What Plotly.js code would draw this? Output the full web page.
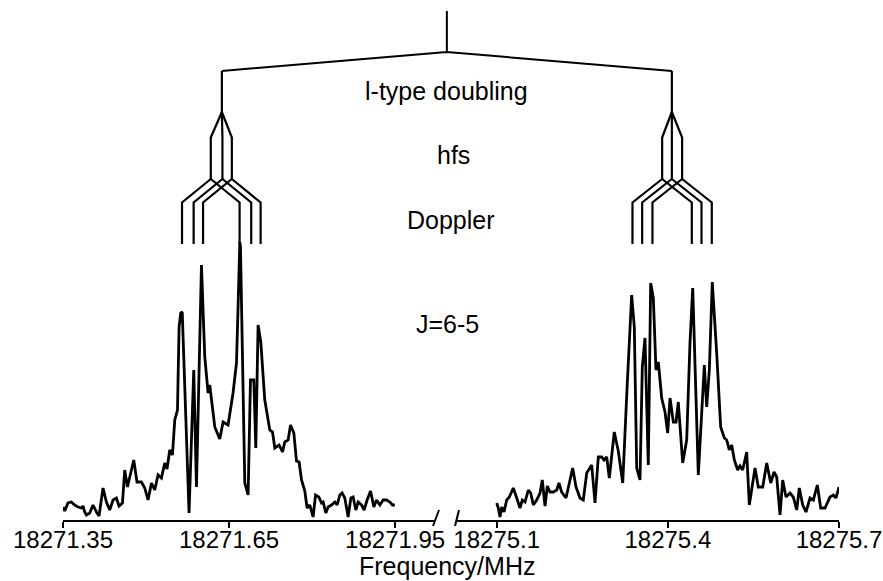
<!DOCTYPE html>
<html><head><meta charset="utf-8">
<script src="https://cdn.plot.ly/plotly-3.0.1.min.js"></script>
<style>html,body{margin:0;padding:0;background:#fff}#chart{width:883px;height:581px}</style>
</head><body><div id="chart"></div>
<script>
// ---- data ----
const freqLeft = [18271.3500,18271.3531,18271.3590,18271.3652,18271.3711,18271.3771,18271.3833,18271.3861,18271.3892,18271.3923,18271.3983,18271.4042,18271.4104,18271.4151,18271.4223,18271.4284,18271.4344,18271.4404,18271.4465,18271.4512,18271.4574,18271.4615,18271.4664,18271.4778,18271.4837,18271.4917,18271.4977,18271.5036,18271.5098,18271.5157,18271.5217,18271.5278,18271.5338,18271.5380,18271.5428,18271.5477,18271.5519,18271.5568,18271.5597,18271.5627,18271.5654,18271.5777,18271.5862,18271.5911,18271.6001,18271.6061,18271.6121,18271.6151,18271.6242,18271.6332,18271.6392,18271.6482,18271.6572,18271.6634,18271.6666,18271.6694,18271.6706,18271.6742,18271.6784,18271.6844,18271.6887,18271.6947,18271.6983,18271.7024,18271.7073,18271.7145,18271.7236,18271.7285,18271.7326,18271.7404,18271.7465,18271.7507,18271.7567,18271.7610,18271.7670,18271.7718,18271.7765,18271.7809,18271.7868,18271.7910,18271.7959,18271.8018,18271.8062,18271.8121,18271.8170,18271.8199,18271.8248,18271.8289,18271.8351,18271.8411,18271.8452,18271.8501,18271.8542,18271.8591,18271.8651,18271.8700,18271.8741,18271.8790,18271.8832,18271.8893,18271.8940,18271.8994,18271.9056,18271.9115,18271.9164,18271.9224,18271.9284,18271.9345,18271.9405,18271.9453,18271.9495];
const intLeft = [0.13,0.09,0.17,0.18,0.15,0.13,0.12,0.14,0.08,0.05,0.07,0.15,0.08,0.04,0.32,0.18,0.10,0.20,0.22,0.14,0.17,0.50,0.33,0.60,0.38,0.38,0.32,0.20,0.37,0.30,0.45,0.42,0.57,0.51,0.70,0.65,1.00,1.10,1.93,2.07,2.08,0.07,1.50,0.33,2.55,1.63,1.27,1.35,0.93,0.81,0.98,0.95,1.27,1.57,2.20,2.78,2.73,1.57,0.37,0.25,1.40,1.40,0.72,1.95,1.78,1.20,0.90,0.88,0.72,0.75,0.68,0.78,0.80,0.95,0.87,0.59,0.58,0.40,0.29,0.12,0.15,0.03,0.25,0.23,0.17,0.18,0.07,0.13,0.15,0.18,0.15,0.25,0.27,0.22,0.03,0.22,0.23,0.10,0.18,0.15,0.10,0.20,0.29,0.13,0.20,0.15,0.20,0.20,0.18,0.15,0.15];
const freqRight = [18275.1000,18275.1028,18275.1058,18275.1088,18275.1128,18275.1175,18275.1221,18275.1291,18275.1351,18275.1408,18275.1449,18275.1496,18275.1554,18275.1596,18275.1642,18275.1701,18275.1759,18275.1799,18275.1847,18275.1887,18275.1934,18275.1992,18275.2052,18275.2092,18275.2139,18275.2215,18275.2273,18275.2332,18275.2390,18275.2460,18275.2518,18275.2578,18275.2665,18275.2723,18275.2781,18275.2841,18275.2881,18275.2928,18275.2974,18275.3016,18275.3061,18275.3131,18275.3209,18275.3289,18275.3366,18275.3412,18275.3454,18275.3512,18275.3552,18275.3599,18275.3657,18275.3699,18275.3745,18275.3792,18275.3833,18275.3892,18275.3950,18275.3997,18275.4038,18275.4096,18275.4143,18275.4183,18275.4260,18275.4330,18275.4388,18275.4436,18275.4534,18275.4639,18275.4681,18275.4727,18275.4779,18275.4856,18275.4926,18275.4990,18275.5032,18275.5077,18275.5119,18275.5165,18275.5224,18275.5265,18275.5312,18275.5382,18275.5428,18275.5528,18275.5585,18275.5663,18275.5733,18275.5803,18275.5861,18275.5908,18275.5966,18275.6013,18275.6071,18275.6141,18275.6199,18275.6259,18275.6304,18275.6364,18275.6422,18275.6492,18275.6550,18275.6620,18275.6679,18275.6755,18275.6842,18275.6900,18275.6947,18275.7000];
const intRight = [0.17,0.12,0.03,0.13,0.08,0.20,0.23,0.32,0.22,0.12,0.20,0.18,0.30,0.27,0.15,0.20,0.27,0.40,0.14,0.34,0.28,0.28,0.30,0.37,0.28,0.22,0.37,0.52,0.33,0.22,0.20,0.47,0.55,0.17,0.63,0.63,0.60,0.63,0.42,0.68,0.88,0.69,0.37,1.37,2.25,1.93,0.52,0.40,1.53,1.82,0.55,2.37,2.22,1.50,1.58,1.22,1.08,0.87,1.22,0.98,0.98,1.18,0.57,0.80,1.77,2.32,0.45,1.55,1.13,1.50,2.38,1.67,0.93,0.82,0.80,0.70,0.75,0.60,0.50,0.54,0.50,0.68,0.15,0.52,0.33,0.33,0.57,0.37,0.48,0.43,0.05,0.40,0.23,0.27,0.23,0.10,0.32,0.15,0.08,0.22,0.20,0.35,0.12,0.12,0.23,0.25,0.22,0.33];
const ticksLeft = [18271.35, 18271.65, 18271.95];
const tickLabelsLeft = ['18271.35', '18271.65', '18271.95'];
const ticksRight = [18275.1, 18275.4, 18275.7];
const tickLabelsRight = ['18275.1', '18275.4', '18275.7'];
const lTypeNodes = [18271.637, 18275.407];
const hfsLeft = [18271.617, 18271.638, 18271.655];
const hfsRight = [18275.390, 18275.407, 18275.425];
const dopplerHalfSplit = 0.052;
const levelLabels = ['l-type doubling', 'hfs', 'Doppler', 'J=6-5'];
const axisTitle = 'Frequency/MHz';

// ---- layout settings ----
const W = 883, H = 581;
const FONT = 'Liberation Sans, Arial, Helvetica, sans-serif';
const domLeft = [63 / W, 435 / W];
const domRight = [457 / W, 839 / W];
const rngLeft = [18271.35, 18272.022];
const rngRight = [18275.0304, 18275.7];
const yRange = [0, 5.2];
// heights of the splitting-diagram levels, in intensity units
const LV = {top: 5.09, topNode: 4.68, node: 4.49, apex: 4.08, hfsTop: 3.825, hfsBot: 3.41, dopTop: 3.175, dopBot: 2.76};

function treeXY(node, hfs, half) {
  const xs = [], ys = [];
  const seg = pts => { pts.forEach(p => { xs.push(p[0]); ys.push(p[1]); }); xs.push(null); ys.push(null); };
  seg([[node, LV.node], [node, LV.apex]]);
  hfs.forEach(h => seg([[node, LV.apex], [h, LV.hfsTop], [h, LV.hfsBot]]));
  hfs.forEach(h => [h - half, h + half].forEach(d => seg([[h, LV.hfsBot], [d, LV.dopTop], [d, LV.dopBot]])));
  return {xs, ys};
}
const tL = treeXY(lTypeNodes[0], hfsLeft, dopplerHalfSplit);
const tR = treeXY(lTypeNodes[1], hfsRight, dopplerHalfSplit);

const toPaper = (f, dom, rng) => dom[0] + (f - rng[0]) / (rng[1] - rng[0]) * (dom[1] - dom[0]);
const pL = toPaper(lTypeNodes[0], domLeft, rngLeft);
const pR = toPaper(lTypeNodes[1], domRight, rngRight);
const pTop = (pL + pR) / 2;
const py = v => v / yRange[1];

const lineStyle = {color: '#000', width: 2.8};
const treeStyle = {color: '#000', width: 2.2};
const traces = [
  {x: freqLeft, y: intLeft, xaxis: 'x', yaxis: 'y', mode: 'lines', line: lineStyle, hoverinfo: 'skip'},
  {x: freqRight, y: intRight, xaxis: 'x2', yaxis: 'y', mode: 'lines', line: lineStyle, hoverinfo: 'skip'},
  {x: tL.xs, y: tL.ys, xaxis: 'x', yaxis: 'y', mode: 'lines', line: treeStyle, hoverinfo: 'skip'},
  {x: tR.xs, y: tR.ys, xaxis: 'x2', yaxis: 'y', mode: 'lines', line: treeStyle, hoverinfo: 'skip'}
];

const axBase = {
  showline: true, linecolor: '#000', linewidth: 2, ticks: 'outside', ticklen: 6, tickwidth: 2, tickcolor: '#000',
  ticklabelstandoff: -9,
  showgrid: false, zeroline: false, anchor: 'y', tickfont: {family: FONT, size: 24, color: '#000'}, fixedrange: true
};

const shapes = [
  {type: 'path', xref: 'paper', yref: 'paper',
   path: `M ${pL} ${py(LV.node)} L ${pTop} ${py(LV.topNode)} L ${pR} ${py(LV.node)} M ${pTop} ${py(LV.topNode)} L ${pTop} ${py(LV.top)}`,
   line: {color: '#000', width: 2}},
  {type: 'line', xref: 'paper', yref: 'paper', xsizemode: 'pixel', ysizemode: 'pixel', xanchor: domLeft[1], yanchor: 0,
   x0: -2, x1: 4, y0: -6, y1: 10, line: {color: '#000', width: 2}},
  {type: 'line', xref: 'paper', yref: 'paper', xsizemode: 'pixel', ysizemode: 'pixel', xanchor: domRight[0], yanchor: 0,
   x0: -2, x1: 2, y0: -6, y1: 10, line: {color: '#000', width: 2}}
];

const labelY = [0.8244, 0.7027, 0.5777, 0.376];
const labelShift = [0, 7, 4, 1];
const annotations = levelLabels.map((t, i) => ({
  text: t, xref: 'paper', yref: 'paper', x: pTop, y: labelY[i], xshift: labelShift[i],
  xanchor: 'center', yanchor: 'middle', showarrow: false, font: {family: FONT, size: 25, color: '#000'}
}));
annotations.push({text: axisTitle, xref: 'paper', yref: 'paper', x: pTop, y: -0.089, xanchor: 'center', yanchor: 'middle',
  showarrow: false, borderpad: 0, font: {family: FONT, size: 25, color: '#000'}});

const layout = {
  width: W, height: H, margin: {l: 0, r: 0, t: 0, b: 61, pad: 0},
  paper_bgcolor: '#fff', plot_bgcolor: '#fff', showlegend: false,
  xaxis: Object.assign({}, axBase, {domain: domLeft, range: rngLeft, tickvals: ticksLeft, ticktext: tickLabelsLeft}),
  xaxis2: Object.assign({}, axBase, {domain: domRight, range: rngRight, tickvals: ticksRight, ticktext: tickLabelsRight}),
  yaxis: {domain: [0, 1], range: yRange, visible: false, fixedrange: true},
  shapes: shapes, annotations: annotations
};

Plotly.newPlot('chart', traces, layout, {displayModeBar: false, staticPlot: true});
</script></body></html>
